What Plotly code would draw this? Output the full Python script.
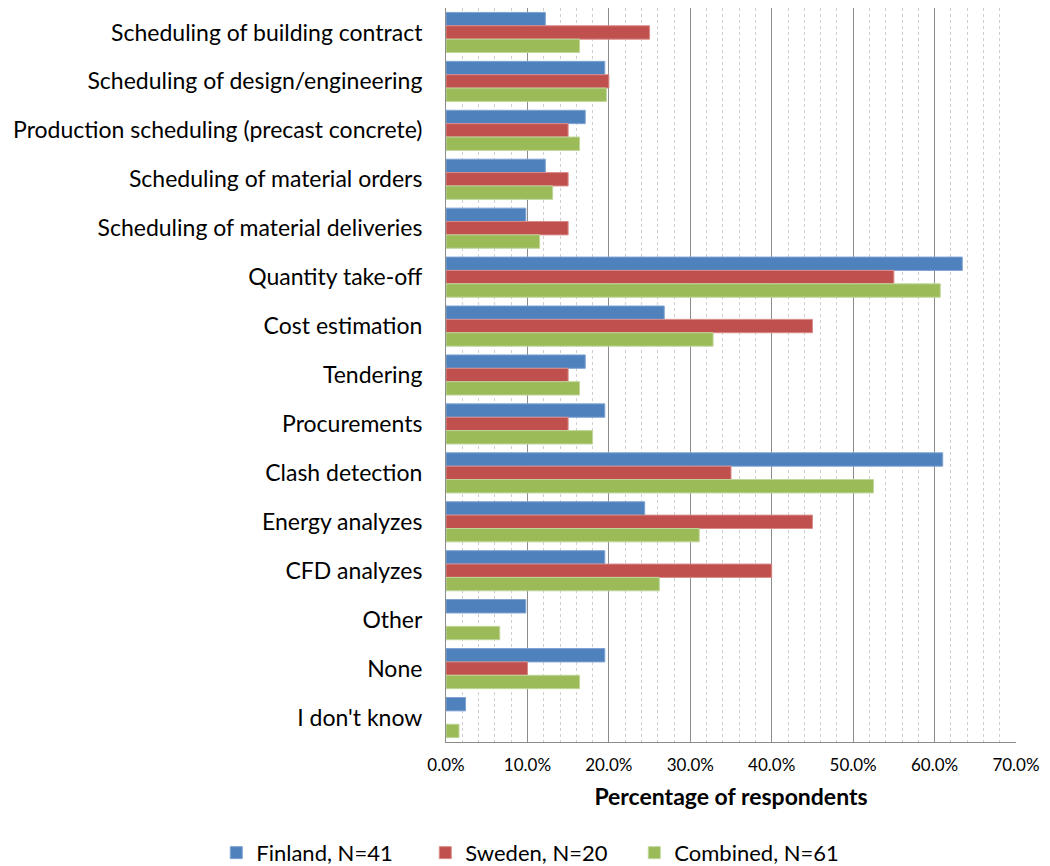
import plotly.graph_objects as go

categories = [
    "Scheduling of building contract",
    "Scheduling of design/engineering",
    "Production scheduling (precast concrete)",
    "Scheduling of material orders",
    "Scheduling of material deliveries",
    "Quantity take-off",
    "Cost estimation",
    "Tendering",
    "Procurements",
    "Clash detection",
    "Energy analyzes",
    "CFD analyzes",
    "Other",
    "None",
    "I don't know",
]

# Share of respondents (%) per use case
finland = [12.2, 19.5, 17.1, 12.2, 9.8, 63.4, 26.8, 17.1, 19.5, 61.0, 24.4, 19.5, 9.8, 19.5, 2.4]
sweden = [25.0, 20.0, 15.0, 15.0, 15.0, 55.0, 45.0, 15.0, 15.0, 35.0, 45.0, 40.0, 0.0, 10.0, 0.0]
combined = [16.4, 19.7, 16.4, 13.1, 11.5, 60.7, 32.8, 16.4, 18.0, 52.5, 31.1, 26.2, 6.6, 16.4, 1.6]

series = [
    ("Finland, N=41", finland, "#4F81BD", "#7FA3D3"),
    ("Sweden, N=20", sweden, "#C0504D", "#D98C8A"),
    ("Combined, N=61", combined, "#9BBB59", "#C0D69A"),
]

FONT = "Lato, Calibri, Carlito, sans-serif"

fig = go.Figure()
for name, vals, fill, edge in series:
    fig.add_trace(go.Bar(
        y=categories, x=vals, name=name, orientation="h",
        marker=dict(color=fill,
                    line=dict(color=edge, width=[1 if v > 0 else 0 for v in vals])),
    ))

fig.update_layout(
    width=1050, height=866,
    margin=dict(l=446, r=34, t=8, b=124, autoexpand=False),
    paper_bgcolor="white", plot_bgcolor="white",
    barmode="group", bargap=0.18, bargroupgap=0,
    font=dict(family=FONT, color="black"),
    legend=dict(
        orientation="h",
        x=-0.403, xanchor="left", y=-0.151, yanchor="middle",
        font=dict(size=22, family=FONT), itemwidth=30,
        entrywidth=164, entrywidthmode="pixels",
        traceorder="normal",
    ),
)

fig.update_xaxes(
    range=[0, 70], dtick=10, tickformat=".1f", ticksuffix="%",
    tickfont=dict(size=17, family=FONT), ticklabelstandoff=8,
    showgrid=True, gridcolor="#8C8C8C", gridwidth=1,
    minor=dict(dtick=2, showgrid=True, gridcolor="#CFCFCF", griddash="dot", gridwidth=1),
    showline=True, linecolor="#8C8C8C", linewidth=1,
    ticks="", zeroline=False,
    title=dict(text="<b>Percentage of respondents</b>", font=dict(size=23, family=FONT), standoff=14),
)

fig.update_yaxes(
    autorange="reversed",
    tickfont=dict(size=23, family=FONT),
    showline=True, linecolor="#8C8C8C", linewidth=1,
    ticks="", showgrid=False, ticklabelstandoff=18,
)

fig.write_html("out.html")
